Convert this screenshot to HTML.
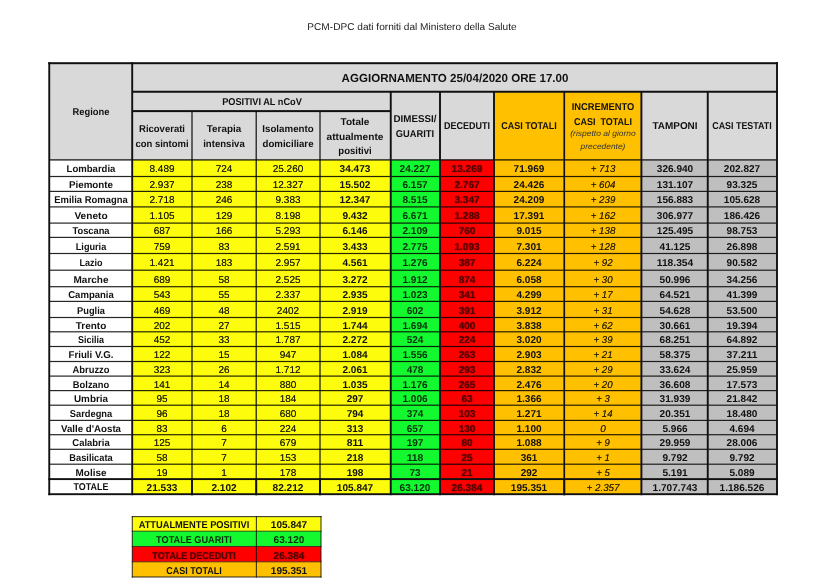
<!DOCTYPE html>
<html lang="it"><head><meta charset="utf-8"><title>PCM-DPC</title>
<style>
html,body{margin:0;padding:0;background:#fff}
body{width:819px;height:587px;position:relative;overflow:hidden;font-family:"Liberation Sans",sans-serif}
#g{position:absolute;left:0;top:0}
#w{position:absolute;left:0;top:0;width:819px;height:587px;will-change:transform}
.r{position:absolute}
.t{position:absolute;text-rendering:geometricPrecision;transform-origin:50% 0;white-space:pre;line-height:1;font-family:"Liberation Sans",sans-serif}
.b{font-weight:bold}
.i{font-style:italic}
</style></head><body>
<svg id="g" width="819" height="587" viewBox="0 0 819 587">
<rect x="49.25" y="63.20" width="727.75" height="96.70" fill="#d9d9d9"/>
<rect x="494.00" y="91.75" width="147.40" height="68.15" fill="#ffc000"/>
<rect x="49.25" y="159.90" width="82.95" height="334.30" fill="#fff"/>
<rect x="132.20" y="159.90" width="258.55" height="334.30" fill="#fcfc0c"/>
<rect x="390.75" y="159.90" width="49.25" height="334.30" fill="#14f82f"/>
<rect x="440.00" y="159.90" width="54.00" height="334.30" fill="#ff0000"/>
<rect x="494.00" y="159.90" width="147.40" height="334.30" fill="#ffc000"/>
<rect x="641.40" y="159.90" width="135.60" height="334.30" fill="#bfbfbf"/>
<rect x="49.25" y="175.90" width="727.75" height="1.20" fill="#000" fill-opacity="0.85"/>
<rect x="49.25" y="190.80" width="727.75" height="1.20" fill="#000" fill-opacity="0.85"/>
<rect x="49.25" y="206.30" width="727.75" height="1.20" fill="#000" fill-opacity="0.85"/>
<rect x="49.25" y="222.50" width="727.75" height="1.20" fill="#000" fill-opacity="0.85"/>
<rect x="49.25" y="236.80" width="727.75" height="1.20" fill="#000" fill-opacity="0.85"/>
<rect x="49.25" y="252.90" width="727.75" height="1.20" fill="#000" fill-opacity="0.85"/>
<rect x="49.25" y="269.60" width="727.75" height="1.20" fill="#000" fill-opacity="0.85"/>
<rect x="49.25" y="286.10" width="727.75" height="1.20" fill="#000" fill-opacity="0.85"/>
<rect x="49.25" y="300.80" width="727.75" height="1.20" fill="#000" fill-opacity="0.85"/>
<rect x="49.25" y="316.90" width="727.75" height="1.20" fill="#000" fill-opacity="0.85"/>
<rect x="49.25" y="331.20" width="727.75" height="1.20" fill="#000" fill-opacity="0.85"/>
<rect x="49.25" y="345.90" width="727.75" height="1.20" fill="#000" fill-opacity="0.85"/>
<rect x="49.25" y="360.90" width="727.75" height="1.20" fill="#000" fill-opacity="0.85"/>
<rect x="49.25" y="375.50" width="727.75" height="1.20" fill="#000" fill-opacity="0.85"/>
<rect x="49.25" y="390.00" width="727.75" height="1.20" fill="#000" fill-opacity="0.85"/>
<rect x="49.25" y="404.60" width="727.75" height="1.20" fill="#000" fill-opacity="0.85"/>
<rect x="49.25" y="419.80" width="727.75" height="1.20" fill="#000" fill-opacity="0.85"/>
<rect x="49.25" y="434.10" width="727.75" height="1.20" fill="#000" fill-opacity="0.85"/>
<rect x="49.25" y="448.70" width="727.75" height="1.20" fill="#000" fill-opacity="0.85"/>
<rect x="49.25" y="463.60" width="727.75" height="1.20" fill="#000" fill-opacity="0.85"/>
<rect x="49.25" y="159.25" width="727.75" height="1.30" fill="#000" fill-opacity="0.9"/>
<rect x="48.30" y="62.20" width="729.65" height="2.00" fill="#111"/>
<rect x="132.20" y="90.75" width="645.75" height="2.00" fill="#111"/>
<rect x="132.20" y="110.10" width="258.55" height="2.00" fill="#111"/>
<rect x="48.30" y="478.15" width="729.65" height="1.90" fill="#111"/>
<rect x="48.30" y="493.25" width="729.65" height="1.90" fill="#111"/>
<rect x="48.30" y="62.20" width="1.90" height="433.00" fill="#111"/>
<rect x="131.25" y="62.20" width="1.90" height="433.00" fill="#111"/>
<rect x="191.25" y="111.10" width="1.50" height="384.10" fill="#000" fill-opacity="0.75"/>
<rect x="191.05" y="479.10" width="1.90" height="16.10" fill="#111"/>
<rect x="255.50" y="111.10" width="1.50" height="384.10" fill="#000" fill-opacity="0.75"/>
<rect x="255.30" y="479.10" width="1.90" height="16.10" fill="#111"/>
<rect x="319.25" y="111.10" width="1.50" height="384.10" fill="#000" fill-opacity="0.75"/>
<rect x="319.05" y="479.10" width="1.90" height="16.10" fill="#111"/>
<rect x="389.80" y="91.75" width="1.90" height="403.45" fill="#111"/>
<rect x="439.05" y="91.75" width="1.90" height="403.45" fill="#111"/>
<rect x="493.05" y="91.75" width="1.90" height="403.45" fill="#111"/>
<rect x="563.40" y="91.75" width="1.70" height="403.45" fill="#111"/>
<rect x="563.30" y="479.10" width="1.90" height="16.10" fill="#111"/>
<rect x="640.45" y="91.75" width="1.90" height="403.45" fill="#111"/>
<rect x="706.80" y="91.75" width="1.90" height="403.45" fill="#111"/>
<rect x="776.05" y="62.20" width="1.90" height="433.00" fill="#111"/>
<rect x="132.30" y="516.60" width="188.70" height="14.60" fill="#fcfc0c"/>
<rect x="132.30" y="531.20" width="188.70" height="15.30" fill="#14f82f"/>
<rect x="132.30" y="546.50" width="188.70" height="15.30" fill="#ff0000"/>
<rect x="132.30" y="561.80" width="188.70" height="15.20" fill="#ffc000"/>
<rect x="131.75" y="516.05" width="189.80" height="1.10" fill="#000" fill-opacity="0.75"/>
<rect x="131.75" y="530.65" width="189.80" height="1.10" fill="#000" fill-opacity="0.6"/>
<rect x="131.75" y="545.95" width="189.80" height="1.10" fill="#000" fill-opacity="0.6"/>
<rect x="131.75" y="561.25" width="189.80" height="1.10" fill="#000" fill-opacity="0.6"/>
<rect x="131.75" y="576.45" width="189.80" height="1.10" fill="#000" fill-opacity="0.75"/>
<rect x="131.75" y="516.05" width="1.10" height="61.50" fill="#000" fill-opacity="0.75"/>
<rect x="255.85" y="516.05" width="1.10" height="61.50" fill="#000" fill-opacity="0.75"/>
<rect x="320.45" y="516.05" width="1.10" height="61.50" fill="#000" fill-opacity="0.75"/>
</svg>
<div id="w">
<span class="t" style="left:411.6px;top:22.16px;font-size:19.80px;color:#222;transform:translateX(-50%) scale(0.5104,0.5)">PCM-DPC dati forniti dal Ministero della Salute</span>
<span class="t b" style="left:454.5px;top:72.28px;font-size:23.40px;color:#111;transform:translateX(-50%) scale(0.4949,0.5)">AGGIORNAMENTO 25/04/2020 ORE 17.00</span>
<span class="t b" style="left:90.7px;top:106.66px;font-size:19.80px;color:#111;transform:translateX(-50%) scale(0.4737,0.5)">Regione</span>
<span class="t b" style="left:261.5px;top:96.66px;font-size:19.80px;color:#111;transform:translateX(-50%) scale(0.4644,0.5)">POSITIVI AL nCoV</span>
<span class="t b" style="left:162.1px;top:124.36px;font-size:19.80px;color:#111;transform:translateX(-50%) scale(0.4805,0.5)">Ricoverati</span>
<span class="t b" style="left:162.1px;top:139.36px;font-size:19.80px;color:#111;transform:translateX(-50%) scale(0.4796,0.5)">con sintomi</span>
<span class="t b" style="left:224.1px;top:124.36px;font-size:19.80px;color:#111;transform:translateX(-50%) scale(0.4983,0.5)">Terapia</span>
<span class="t b" style="left:224.1px;top:139.36px;font-size:19.80px;color:#111;transform:translateX(-50%) scale(0.4848,0.5)">intensiva</span>
<span class="t b" style="left:288.1px;top:124.36px;font-size:19.80px;color:#111;transform:translateX(-50%) scale(0.4926,0.5)">Isolamento</span>
<span class="t b" style="left:288.1px;top:139.36px;font-size:19.80px;color:#111;transform:translateX(-50%) scale(0.4885,0.5)">domiciliare</span>
<span class="t b" style="left:355.4px;top:117.36px;font-size:19.80px;color:#111;transform:translateX(-50%) scale(0.5074,0.5)">Totale</span>
<span class="t b" style="left:355.4px;top:132.16px;font-size:19.80px;color:#111;transform:translateX(-50%) scale(0.5115,0.5)">attualmente</span>
<span class="t b" style="left:355.4px;top:146.36px;font-size:19.80px;color:#111;transform:translateX(-50%) scale(0.4812,0.5)">positivi</span>
<span class="t b" style="left:415.4px;top:114.26px;font-size:19.80px;color:#111;transform:translateX(-50%) scale(0.4937,0.5)">DIMESSI/</span>
<span class="t b" style="left:415.4px;top:129.06px;font-size:19.80px;color:#111;transform:translateX(-50%) scale(0.4708,0.5)">GUARITI</span>
<span class="t b" style="left:467.0px;top:121.06px;font-size:19.80px;color:#111;transform:translateX(-50%) scale(0.4540,0.5)">DECEDUTI</span>
<span class="t b" style="left:529.1px;top:120.66px;font-size:19.80px;color:#111;transform:translateX(-50%) scale(0.4546,0.5)">CASI TOTALI</span>
<span class="t b" style="left:602.8px;top:101.66px;font-size:19.80px;color:#111;transform:translateX(-50%) scale(0.4724,0.5)">INCREMENTO</span>
<span class="t b" style="left:602.8px;top:116.66px;font-size:19.80px;color:#111;transform:translateX(-50%) scale(0.4545,0.5)">CASI  TOTALI</span>
<span class="t i" style="left:602.8px;top:129.34px;font-size:16.20px;color:#333;transform:translateX(-50%) scale(0.5236,0.5)">(rispetto al giorno</span>
<span class="t i" style="left:602.8px;top:141.74px;font-size:16.20px;color:#333;transform:translateX(-50%) scale(0.5180,0.5)">precedente)</span>
<span class="t b" style="left:674.6px;top:120.66px;font-size:19.80px;color:#111;transform:translateX(-50%) scale(0.5033,0.5)">TAMPONI</span>
<span class="t b" style="left:742.4px;top:120.66px;font-size:19.80px;color:#111;transform:translateX(-50%) scale(0.4503,0.5)">CASI TESTATI</span>
<span class="t b" style="left:90.7px;top:163.92px;font-size:19.80px;color:#111;transform:translateX(-50%) scale(0.4822,0.5)">Lombardia</span>
<span class="t" style="left:162.1px;top:163.92px;font-size:19.80px;color:#1c1c08;transform:translateX(-50%) scale(0.5061,0.5);text-shadow:0 0 1.2px rgba(20,20,0,.7)">8.489</span>
<span class="t" style="left:224.1px;top:163.92px;font-size:19.80px;color:#1c1c08;transform:translateX(-50%) scale(0.5063,0.5);text-shadow:0 0 1.2px rgba(20,20,0,.7)">724</span>
<span class="t" style="left:288.1px;top:163.92px;font-size:19.80px;color:#1c1c08;transform:translateX(-50%) scale(0.5062,0.5);text-shadow:0 0 1.2px rgba(20,20,0,.7)">25.260</span>
<span class="t b" style="left:355.4px;top:163.92px;font-size:19.80px;color:#111;transform:translateX(-50%) scale(0.5088,0.5)">34.473</span>
<span class="t b" style="left:415.4px;top:163.92px;font-size:19.80px;color:#06300a;transform:translateX(-50%) scale(0.5088,0.5)">24.227</span>
<span class="t b" style="left:467.0px;top:163.92px;font-size:19.80px;color:#560000;transform:translateX(-50%) scale(0.5088,0.5);text-shadow:0 0 2.5px rgba(80,0,0,.85)">13.269</span>
<span class="t b" style="left:529.1px;top:163.92px;font-size:19.80px;color:#111;transform:translateX(-50%) scale(0.5088,0.5)">71.969</span>
<span class="t i" style="left:602.8px;top:163.92px;font-size:19.80px;color:#2e2200;transform:translateX(-50%) scale(0.4928,0.5);text-shadow:0 0 1.2px rgba(20,20,0,.7)">+ 713</span>
<span class="t b" style="left:674.6px;top:163.92px;font-size:19.80px;color:#111;transform:translateX(-50%) scale(0.5084,0.5)">326.940</span>
<span class="t b" style="left:742.4px;top:163.92px;font-size:19.80px;color:#111;transform:translateX(-50%) scale(0.5084,0.5)">202.827</span>
<span class="t b" style="left:90.7px;top:179.92px;font-size:19.80px;color:#111;transform:translateX(-50%) scale(0.4959,0.5)">Piemonte</span>
<span class="t" style="left:162.1px;top:179.92px;font-size:19.80px;color:#1c1c08;transform:translateX(-50%) scale(0.5061,0.5);text-shadow:0 0 1.2px rgba(20,20,0,.7)">2.937</span>
<span class="t" style="left:224.1px;top:179.92px;font-size:19.80px;color:#1c1c08;transform:translateX(-50%) scale(0.5063,0.5);text-shadow:0 0 1.2px rgba(20,20,0,.7)">238</span>
<span class="t" style="left:288.1px;top:179.92px;font-size:19.80px;color:#1c1c08;transform:translateX(-50%) scale(0.5062,0.5);text-shadow:0 0 1.2px rgba(20,20,0,.7)">12.327</span>
<span class="t b" style="left:355.4px;top:179.92px;font-size:19.80px;color:#111;transform:translateX(-50%) scale(0.5088,0.5)">15.502</span>
<span class="t b" style="left:415.4px;top:179.92px;font-size:19.80px;color:#06300a;transform:translateX(-50%) scale(0.5094,0.5)">6.157</span>
<span class="t b" style="left:467.0px;top:179.92px;font-size:19.80px;color:#560000;transform:translateX(-50%) scale(0.5094,0.5);text-shadow:0 0 2.5px rgba(80,0,0,.85)">2.767</span>
<span class="t b" style="left:529.1px;top:179.92px;font-size:19.80px;color:#111;transform:translateX(-50%) scale(0.5088,0.5)">24.426</span>
<span class="t i" style="left:602.8px;top:179.92px;font-size:19.80px;color:#2e2200;transform:translateX(-50%) scale(0.4928,0.5);text-shadow:0 0 1.2px rgba(20,20,0,.7)">+ 604</span>
<span class="t b" style="left:674.6px;top:179.92px;font-size:19.80px;color:#111;transform:translateX(-50%) scale(0.5084,0.5)">131.107</span>
<span class="t b" style="left:742.4px;top:179.92px;font-size:19.80px;color:#111;transform:translateX(-50%) scale(0.5088,0.5)">93.325</span>
<span class="t b" style="left:90.7px;top:194.92px;font-size:19.80px;color:#111;transform:translateX(-50%) scale(0.4765,0.5)">Emilia Romagna</span>
<span class="t" style="left:162.1px;top:194.92px;font-size:19.80px;color:#1c1c08;transform:translateX(-50%) scale(0.5061,0.5);text-shadow:0 0 1.2px rgba(20,20,0,.7)">2.718</span>
<span class="t" style="left:224.1px;top:194.92px;font-size:19.80px;color:#1c1c08;transform:translateX(-50%) scale(0.5063,0.5);text-shadow:0 0 1.2px rgba(20,20,0,.7)">246</span>
<span class="t" style="left:288.1px;top:194.92px;font-size:19.80px;color:#1c1c08;transform:translateX(-50%) scale(0.5061,0.5);text-shadow:0 0 1.2px rgba(20,20,0,.7)">9.383</span>
<span class="t b" style="left:355.4px;top:194.92px;font-size:19.80px;color:#111;transform:translateX(-50%) scale(0.5088,0.5)">12.347</span>
<span class="t b" style="left:415.4px;top:194.92px;font-size:19.80px;color:#06300a;transform:translateX(-50%) scale(0.5094,0.5)">8.515</span>
<span class="t b" style="left:467.0px;top:194.92px;font-size:19.80px;color:#560000;transform:translateX(-50%) scale(0.5094,0.5);text-shadow:0 0 2.5px rgba(80,0,0,.85)">3.347</span>
<span class="t b" style="left:529.1px;top:194.92px;font-size:19.80px;color:#111;transform:translateX(-50%) scale(0.5088,0.5)">24.209</span>
<span class="t i" style="left:602.8px;top:194.92px;font-size:19.80px;color:#2e2200;transform:translateX(-50%) scale(0.4928,0.5);text-shadow:0 0 1.2px rgba(20,20,0,.7)">+ 239</span>
<span class="t b" style="left:674.6px;top:194.92px;font-size:19.80px;color:#111;transform:translateX(-50%) scale(0.5084,0.5)">156.883</span>
<span class="t b" style="left:742.4px;top:194.92px;font-size:19.80px;color:#111;transform:translateX(-50%) scale(0.5084,0.5)">105.628</span>
<span class="t b" style="left:90.7px;top:210.92px;font-size:19.80px;color:#111;transform:translateX(-50%) scale(0.5115,0.5)">Veneto</span>
<span class="t" style="left:162.1px;top:210.92px;font-size:19.80px;color:#1c1c08;transform:translateX(-50%) scale(0.5061,0.5);text-shadow:0 0 1.2px rgba(20,20,0,.7)">1.105</span>
<span class="t" style="left:224.1px;top:210.92px;font-size:19.80px;color:#1c1c08;transform:translateX(-50%) scale(0.5063,0.5);text-shadow:0 0 1.2px rgba(20,20,0,.7)">129</span>
<span class="t" style="left:288.1px;top:210.92px;font-size:19.80px;color:#1c1c08;transform:translateX(-50%) scale(0.5061,0.5);text-shadow:0 0 1.2px rgba(20,20,0,.7)">8.198</span>
<span class="t b" style="left:355.4px;top:210.92px;font-size:19.80px;color:#111;transform:translateX(-50%) scale(0.5094,0.5)">9.432</span>
<span class="t b" style="left:415.4px;top:210.92px;font-size:19.80px;color:#06300a;transform:translateX(-50%) scale(0.5094,0.5)">6.671</span>
<span class="t b" style="left:467.0px;top:210.92px;font-size:19.80px;color:#560000;transform:translateX(-50%) scale(0.5094,0.5);text-shadow:0 0 2.5px rgba(80,0,0,.85)">1.288</span>
<span class="t b" style="left:529.1px;top:210.92px;font-size:19.80px;color:#111;transform:translateX(-50%) scale(0.5088,0.5)">17.391</span>
<span class="t i" style="left:602.8px;top:210.92px;font-size:19.80px;color:#2e2200;transform:translateX(-50%) scale(0.4928,0.5);text-shadow:0 0 1.2px rgba(20,20,0,.7)">+ 162</span>
<span class="t b" style="left:674.6px;top:210.92px;font-size:19.80px;color:#111;transform:translateX(-50%) scale(0.5084,0.5)">306.977</span>
<span class="t b" style="left:742.4px;top:210.92px;font-size:19.80px;color:#111;transform:translateX(-50%) scale(0.5084,0.5)">186.426</span>
<span class="t b" style="left:90.7px;top:225.92px;font-size:19.80px;color:#111;transform:translateX(-50%) scale(0.4708,0.5)">Toscana</span>
<span class="t" style="left:162.1px;top:225.92px;font-size:19.80px;color:#1c1c08;transform:translateX(-50%) scale(0.5063,0.5);text-shadow:0 0 1.2px rgba(20,20,0,.7)">687</span>
<span class="t" style="left:224.1px;top:225.92px;font-size:19.80px;color:#1c1c08;transform:translateX(-50%) scale(0.5063,0.5);text-shadow:0 0 1.2px rgba(20,20,0,.7)">166</span>
<span class="t" style="left:288.1px;top:225.92px;font-size:19.80px;color:#1c1c08;transform:translateX(-50%) scale(0.5061,0.5);text-shadow:0 0 1.2px rgba(20,20,0,.7)">5.293</span>
<span class="t b" style="left:355.4px;top:225.92px;font-size:19.80px;color:#111;transform:translateX(-50%) scale(0.5094,0.5)">6.146</span>
<span class="t b" style="left:415.4px;top:225.92px;font-size:19.80px;color:#06300a;transform:translateX(-50%) scale(0.5094,0.5)">2.109</span>
<span class="t b" style="left:467.0px;top:225.92px;font-size:19.80px;color:#560000;transform:translateX(-50%) scale(0.5063,0.5);text-shadow:0 0 2.5px rgba(80,0,0,.85)">760</span>
<span class="t b" style="left:529.1px;top:225.92px;font-size:19.80px;color:#111;transform:translateX(-50%) scale(0.5094,0.5)">9.015</span>
<span class="t i" style="left:602.8px;top:225.92px;font-size:19.80px;color:#2e2200;transform:translateX(-50%) scale(0.4928,0.5);text-shadow:0 0 1.2px rgba(20,20,0,.7)">+ 138</span>
<span class="t b" style="left:674.6px;top:225.92px;font-size:19.80px;color:#111;transform:translateX(-50%) scale(0.5084,0.5)">125.495</span>
<span class="t b" style="left:742.4px;top:225.92px;font-size:19.80px;color:#111;transform:translateX(-50%) scale(0.5088,0.5)">98.753</span>
<span class="t b" style="left:90.7px;top:241.92px;font-size:19.80px;color:#111;transform:translateX(-50%) scale(0.4625,0.5)">Liguria</span>
<span class="t" style="left:162.1px;top:241.92px;font-size:19.80px;color:#1c1c08;transform:translateX(-50%) scale(0.5063,0.5);text-shadow:0 0 1.2px rgba(20,20,0,.7)">759</span>
<span class="t" style="left:224.1px;top:241.92px;font-size:19.80px;color:#1c1c08;transform:translateX(-50%) scale(0.5063,0.5);text-shadow:0 0 1.2px rgba(20,20,0,.7)">83</span>
<span class="t" style="left:288.1px;top:241.92px;font-size:19.80px;color:#1c1c08;transform:translateX(-50%) scale(0.5061,0.5);text-shadow:0 0 1.2px rgba(20,20,0,.7)">2.591</span>
<span class="t b" style="left:355.4px;top:241.92px;font-size:19.80px;color:#111;transform:translateX(-50%) scale(0.5094,0.5)">3.433</span>
<span class="t b" style="left:415.4px;top:241.92px;font-size:19.80px;color:#06300a;transform:translateX(-50%) scale(0.5094,0.5)">2.775</span>
<span class="t b" style="left:467.0px;top:241.92px;font-size:19.80px;color:#560000;transform:translateX(-50%) scale(0.5094,0.5);text-shadow:0 0 2.5px rgba(80,0,0,.85)">1.093</span>
<span class="t b" style="left:529.1px;top:241.92px;font-size:19.80px;color:#111;transform:translateX(-50%) scale(0.5094,0.5)">7.301</span>
<span class="t i" style="left:602.8px;top:241.92px;font-size:19.80px;color:#2e2200;transform:translateX(-50%) scale(0.4928,0.5);text-shadow:0 0 1.2px rgba(20,20,0,.7)">+ 128</span>
<span class="t b" style="left:674.6px;top:241.92px;font-size:19.80px;color:#111;transform:translateX(-50%) scale(0.5088,0.5)">41.125</span>
<span class="t b" style="left:742.4px;top:241.92px;font-size:19.80px;color:#111;transform:translateX(-50%) scale(0.5088,0.5)">26.898</span>
<span class="t b" style="left:90.7px;top:257.92px;font-size:19.80px;color:#111;transform:translateX(-50%) scale(0.4561,0.5)">Lazio</span>
<span class="t" style="left:162.1px;top:257.92px;font-size:19.80px;color:#1c1c08;transform:translateX(-50%) scale(0.5061,0.5);text-shadow:0 0 1.2px rgba(20,20,0,.7)">1.421</span>
<span class="t" style="left:224.1px;top:257.92px;font-size:19.80px;color:#1c1c08;transform:translateX(-50%) scale(0.5063,0.5);text-shadow:0 0 1.2px rgba(20,20,0,.7)">183</span>
<span class="t" style="left:288.1px;top:257.92px;font-size:19.80px;color:#1c1c08;transform:translateX(-50%) scale(0.5061,0.5);text-shadow:0 0 1.2px rgba(20,20,0,.7)">2.957</span>
<span class="t b" style="left:355.4px;top:257.92px;font-size:19.80px;color:#111;transform:translateX(-50%) scale(0.5094,0.5)">4.561</span>
<span class="t b" style="left:415.4px;top:257.92px;font-size:19.80px;color:#06300a;transform:translateX(-50%) scale(0.5094,0.5)">1.276</span>
<span class="t b" style="left:467.0px;top:257.92px;font-size:19.80px;color:#560000;transform:translateX(-50%) scale(0.5063,0.5);text-shadow:0 0 2.5px rgba(80,0,0,.85)">387</span>
<span class="t b" style="left:529.1px;top:257.92px;font-size:19.80px;color:#111;transform:translateX(-50%) scale(0.5094,0.5)">6.224</span>
<span class="t i" style="left:602.8px;top:257.92px;font-size:19.80px;color:#2e2200;transform:translateX(-50%) scale(0.4890,0.5);text-shadow:0 0 1.2px rgba(20,20,0,.7)">+ 92</span>
<span class="t b" style="left:674.6px;top:257.92px;font-size:19.80px;color:#111;transform:translateX(-50%) scale(0.5163,0.5)">118.354</span>
<span class="t b" style="left:742.4px;top:257.92px;font-size:19.80px;color:#111;transform:translateX(-50%) scale(0.5088,0.5)">90.582</span>
<span class="t b" style="left:90.7px;top:274.92px;font-size:19.80px;color:#111;transform:translateX(-50%) scale(0.5049,0.5)">Marche</span>
<span class="t" style="left:162.1px;top:274.92px;font-size:19.80px;color:#1c1c08;transform:translateX(-50%) scale(0.5063,0.5);text-shadow:0 0 1.2px rgba(20,20,0,.7)">689</span>
<span class="t" style="left:224.1px;top:274.92px;font-size:19.80px;color:#1c1c08;transform:translateX(-50%) scale(0.5063,0.5);text-shadow:0 0 1.2px rgba(20,20,0,.7)">58</span>
<span class="t" style="left:288.1px;top:274.92px;font-size:19.80px;color:#1c1c08;transform:translateX(-50%) scale(0.5061,0.5);text-shadow:0 0 1.2px rgba(20,20,0,.7)">2.525</span>
<span class="t b" style="left:355.4px;top:274.92px;font-size:19.80px;color:#111;transform:translateX(-50%) scale(0.5094,0.5)">3.272</span>
<span class="t b" style="left:415.4px;top:274.92px;font-size:19.80px;color:#06300a;transform:translateX(-50%) scale(0.5094,0.5)">1.912</span>
<span class="t b" style="left:467.0px;top:274.92px;font-size:19.80px;color:#560000;transform:translateX(-50%) scale(0.5063,0.5);text-shadow:0 0 2.5px rgba(80,0,0,.85)">874</span>
<span class="t b" style="left:529.1px;top:274.92px;font-size:19.80px;color:#111;transform:translateX(-50%) scale(0.5094,0.5)">6.058</span>
<span class="t i" style="left:602.8px;top:274.92px;font-size:19.80px;color:#2e2200;transform:translateX(-50%) scale(0.4890,0.5);text-shadow:0 0 1.2px rgba(20,20,0,.7)">+ 30</span>
<span class="t b" style="left:674.6px;top:274.92px;font-size:19.80px;color:#111;transform:translateX(-50%) scale(0.5088,0.5)">50.996</span>
<span class="t b" style="left:742.4px;top:274.92px;font-size:19.80px;color:#111;transform:translateX(-50%) scale(0.5088,0.5)">34.256</span>
<span class="t b" style="left:90.7px;top:289.92px;font-size:19.80px;color:#111;transform:translateX(-50%) scale(0.4818,0.5)">Campania</span>
<span class="t" style="left:162.1px;top:289.92px;font-size:19.80px;color:#1c1c08;transform:translateX(-50%) scale(0.5063,0.5);text-shadow:0 0 1.2px rgba(20,20,0,.7)">543</span>
<span class="t" style="left:224.1px;top:289.92px;font-size:19.80px;color:#1c1c08;transform:translateX(-50%) scale(0.5063,0.5);text-shadow:0 0 1.2px rgba(20,20,0,.7)">55</span>
<span class="t" style="left:288.1px;top:289.92px;font-size:19.80px;color:#1c1c08;transform:translateX(-50%) scale(0.5061,0.5);text-shadow:0 0 1.2px rgba(20,20,0,.7)">2.337</span>
<span class="t b" style="left:355.4px;top:289.92px;font-size:19.80px;color:#111;transform:translateX(-50%) scale(0.5094,0.5)">2.935</span>
<span class="t b" style="left:415.4px;top:289.92px;font-size:19.80px;color:#06300a;transform:translateX(-50%) scale(0.5094,0.5)">1.023</span>
<span class="t b" style="left:467.0px;top:289.92px;font-size:19.80px;color:#560000;transform:translateX(-50%) scale(0.5063,0.5);text-shadow:0 0 2.5px rgba(80,0,0,.85)">341</span>
<span class="t b" style="left:529.1px;top:289.92px;font-size:19.80px;color:#111;transform:translateX(-50%) scale(0.5094,0.5)">4.299</span>
<span class="t i" style="left:602.8px;top:289.92px;font-size:19.80px;color:#2e2200;transform:translateX(-50%) scale(0.4890,0.5);text-shadow:0 0 1.2px rgba(20,20,0,.7)">+ 17</span>
<span class="t b" style="left:674.6px;top:289.92px;font-size:19.80px;color:#111;transform:translateX(-50%) scale(0.5088,0.5)">64.521</span>
<span class="t b" style="left:742.4px;top:289.92px;font-size:19.80px;color:#111;transform:translateX(-50%) scale(0.5088,0.5)">41.399</span>
<span class="t b" style="left:90.7px;top:305.92px;font-size:19.80px;color:#111;transform:translateX(-50%) scale(0.4684,0.5)">Puglia</span>
<span class="t" style="left:162.1px;top:305.92px;font-size:19.80px;color:#1c1c08;transform:translateX(-50%) scale(0.5063,0.5);text-shadow:0 0 1.2px rgba(20,20,0,.7)">469</span>
<span class="t" style="left:224.1px;top:305.92px;font-size:19.80px;color:#1c1c08;transform:translateX(-50%) scale(0.5063,0.5);text-shadow:0 0 1.2px rgba(20,20,0,.7)">48</span>
<span class="t" style="left:288.1px;top:305.92px;font-size:19.80px;color:#1c1c08;transform:translateX(-50%) scale(0.5063,0.5);text-shadow:0 0 1.2px rgba(20,20,0,.7)">2402</span>
<span class="t b" style="left:355.4px;top:305.92px;font-size:19.80px;color:#111;transform:translateX(-50%) scale(0.5094,0.5)">2.919</span>
<span class="t b" style="left:415.4px;top:305.92px;font-size:19.80px;color:#06300a;transform:translateX(-50%) scale(0.5063,0.5)">602</span>
<span class="t b" style="left:467.0px;top:305.92px;font-size:19.80px;color:#560000;transform:translateX(-50%) scale(0.5063,0.5);text-shadow:0 0 2.5px rgba(80,0,0,.85)">391</span>
<span class="t b" style="left:529.1px;top:305.92px;font-size:19.80px;color:#111;transform:translateX(-50%) scale(0.5094,0.5)">3.912</span>
<span class="t i" style="left:602.8px;top:305.92px;font-size:19.80px;color:#2e2200;transform:translateX(-50%) scale(0.4890,0.5);text-shadow:0 0 1.2px rgba(20,20,0,.7)">+ 31</span>
<span class="t b" style="left:674.6px;top:305.92px;font-size:19.80px;color:#111;transform:translateX(-50%) scale(0.5088,0.5)">54.628</span>
<span class="t b" style="left:742.4px;top:305.92px;font-size:19.80px;color:#111;transform:translateX(-50%) scale(0.5088,0.5)">53.500</span>
<span class="t b" style="left:90.7px;top:320.92px;font-size:19.80px;color:#111;transform:translateX(-50%) scale(0.5042,0.5)">Trento</span>
<span class="t" style="left:162.1px;top:320.92px;font-size:19.80px;color:#1c1c08;transform:translateX(-50%) scale(0.5063,0.5);text-shadow:0 0 1.2px rgba(20,20,0,.7)">202</span>
<span class="t" style="left:224.1px;top:320.92px;font-size:19.80px;color:#1c1c08;transform:translateX(-50%) scale(0.5063,0.5);text-shadow:0 0 1.2px rgba(20,20,0,.7)">27</span>
<span class="t" style="left:288.1px;top:320.92px;font-size:19.80px;color:#1c1c08;transform:translateX(-50%) scale(0.5061,0.5);text-shadow:0 0 1.2px rgba(20,20,0,.7)">1.515</span>
<span class="t b" style="left:355.4px;top:320.92px;font-size:19.80px;color:#111;transform:translateX(-50%) scale(0.5094,0.5)">1.744</span>
<span class="t b" style="left:415.4px;top:320.92px;font-size:19.80px;color:#06300a;transform:translateX(-50%) scale(0.5094,0.5)">1.694</span>
<span class="t b" style="left:467.0px;top:320.92px;font-size:19.80px;color:#560000;transform:translateX(-50%) scale(0.5063,0.5);text-shadow:0 0 2.5px rgba(80,0,0,.85)">400</span>
<span class="t b" style="left:529.1px;top:320.92px;font-size:19.80px;color:#111;transform:translateX(-50%) scale(0.5094,0.5)">3.838</span>
<span class="t i" style="left:602.8px;top:320.92px;font-size:19.80px;color:#2e2200;transform:translateX(-50%) scale(0.4890,0.5);text-shadow:0 0 1.2px rgba(20,20,0,.7)">+ 62</span>
<span class="t b" style="left:674.6px;top:320.92px;font-size:19.80px;color:#111;transform:translateX(-50%) scale(0.5088,0.5)">30.661</span>
<span class="t b" style="left:742.4px;top:320.92px;font-size:19.80px;color:#111;transform:translateX(-50%) scale(0.5088,0.5)">19.394</span>
<span class="t b" style="left:90.7px;top:334.92px;font-size:19.80px;color:#111;transform:translateX(-50%) scale(0.4554,0.5)">Sicilia</span>
<span class="t" style="left:162.1px;top:334.92px;font-size:19.80px;color:#1c1c08;transform:translateX(-50%) scale(0.5063,0.5);text-shadow:0 0 1.2px rgba(20,20,0,.7)">452</span>
<span class="t" style="left:224.1px;top:334.92px;font-size:19.80px;color:#1c1c08;transform:translateX(-50%) scale(0.5063,0.5);text-shadow:0 0 1.2px rgba(20,20,0,.7)">33</span>
<span class="t" style="left:288.1px;top:334.92px;font-size:19.80px;color:#1c1c08;transform:translateX(-50%) scale(0.5061,0.5);text-shadow:0 0 1.2px rgba(20,20,0,.7)">1.787</span>
<span class="t b" style="left:355.4px;top:334.92px;font-size:19.80px;color:#111;transform:translateX(-50%) scale(0.5094,0.5)">2.272</span>
<span class="t b" style="left:415.4px;top:334.92px;font-size:19.80px;color:#06300a;transform:translateX(-50%) scale(0.5063,0.5)">524</span>
<span class="t b" style="left:467.0px;top:334.92px;font-size:19.80px;color:#560000;transform:translateX(-50%) scale(0.5063,0.5);text-shadow:0 0 2.5px rgba(80,0,0,.85)">224</span>
<span class="t b" style="left:529.1px;top:334.92px;font-size:19.80px;color:#111;transform:translateX(-50%) scale(0.5094,0.5)">3.020</span>
<span class="t i" style="left:602.8px;top:334.92px;font-size:19.80px;color:#2e2200;transform:translateX(-50%) scale(0.4890,0.5);text-shadow:0 0 1.2px rgba(20,20,0,.7)">+ 39</span>
<span class="t b" style="left:674.6px;top:334.92px;font-size:19.80px;color:#111;transform:translateX(-50%) scale(0.5088,0.5)">68.251</span>
<span class="t b" style="left:742.4px;top:334.92px;font-size:19.80px;color:#111;transform:translateX(-50%) scale(0.5088,0.5)">64.892</span>
<span class="t b" style="left:90.7px;top:349.92px;font-size:19.80px;color:#111;transform:translateX(-50%) scale(0.4894,0.5)">Friuli V.G.</span>
<span class="t" style="left:162.1px;top:349.92px;font-size:19.80px;color:#1c1c08;transform:translateX(-50%) scale(0.5063,0.5);text-shadow:0 0 1.2px rgba(20,20,0,.7)">122</span>
<span class="t" style="left:224.1px;top:349.92px;font-size:19.80px;color:#1c1c08;transform:translateX(-50%) scale(0.5063,0.5);text-shadow:0 0 1.2px rgba(20,20,0,.7)">15</span>
<span class="t" style="left:288.1px;top:349.92px;font-size:19.80px;color:#1c1c08;transform:translateX(-50%) scale(0.5063,0.5);text-shadow:0 0 1.2px rgba(20,20,0,.7)">947</span>
<span class="t b" style="left:355.4px;top:349.92px;font-size:19.80px;color:#111;transform:translateX(-50%) scale(0.5094,0.5)">1.084</span>
<span class="t b" style="left:415.4px;top:349.92px;font-size:19.80px;color:#06300a;transform:translateX(-50%) scale(0.5094,0.5)">1.556</span>
<span class="t b" style="left:467.0px;top:349.92px;font-size:19.80px;color:#560000;transform:translateX(-50%) scale(0.5063,0.5);text-shadow:0 0 2.5px rgba(80,0,0,.85)">263</span>
<span class="t b" style="left:529.1px;top:349.92px;font-size:19.80px;color:#111;transform:translateX(-50%) scale(0.5094,0.5)">2.903</span>
<span class="t i" style="left:602.8px;top:349.92px;font-size:19.80px;color:#2e2200;transform:translateX(-50%) scale(0.4890,0.5);text-shadow:0 0 1.2px rgba(20,20,0,.7)">+ 21</span>
<span class="t b" style="left:674.6px;top:349.92px;font-size:19.80px;color:#111;transform:translateX(-50%) scale(0.5088,0.5)">58.375</span>
<span class="t b" style="left:742.4px;top:349.92px;font-size:19.80px;color:#111;transform:translateX(-50%) scale(0.5182,0.5)">37.211</span>
<span class="t b" style="left:90.7px;top:364.92px;font-size:19.80px;color:#111;transform:translateX(-50%) scale(0.4745,0.5)">Abruzzo</span>
<span class="t" style="left:162.1px;top:364.92px;font-size:19.80px;color:#1c1c08;transform:translateX(-50%) scale(0.5063,0.5);text-shadow:0 0 1.2px rgba(20,20,0,.7)">323</span>
<span class="t" style="left:224.1px;top:364.92px;font-size:19.80px;color:#1c1c08;transform:translateX(-50%) scale(0.5063,0.5);text-shadow:0 0 1.2px rgba(20,20,0,.7)">26</span>
<span class="t" style="left:288.1px;top:364.92px;font-size:19.80px;color:#1c1c08;transform:translateX(-50%) scale(0.5061,0.5);text-shadow:0 0 1.2px rgba(20,20,0,.7)">1.712</span>
<span class="t b" style="left:355.4px;top:364.92px;font-size:19.80px;color:#111;transform:translateX(-50%) scale(0.5094,0.5)">2.061</span>
<span class="t b" style="left:415.4px;top:364.92px;font-size:19.80px;color:#06300a;transform:translateX(-50%) scale(0.5063,0.5)">478</span>
<span class="t b" style="left:467.0px;top:364.92px;font-size:19.80px;color:#560000;transform:translateX(-50%) scale(0.5063,0.5);text-shadow:0 0 2.5px rgba(80,0,0,.85)">293</span>
<span class="t b" style="left:529.1px;top:364.92px;font-size:19.80px;color:#111;transform:translateX(-50%) scale(0.5094,0.5)">2.832</span>
<span class="t i" style="left:602.8px;top:364.92px;font-size:19.80px;color:#2e2200;transform:translateX(-50%) scale(0.4890,0.5);text-shadow:0 0 1.2px rgba(20,20,0,.7)">+ 29</span>
<span class="t b" style="left:674.6px;top:364.92px;font-size:19.80px;color:#111;transform:translateX(-50%) scale(0.5088,0.5)">33.624</span>
<span class="t b" style="left:742.4px;top:364.92px;font-size:19.80px;color:#111;transform:translateX(-50%) scale(0.5088,0.5)">25.959</span>
<span class="t b" style="left:90.7px;top:379.92px;font-size:19.80px;color:#111;transform:translateX(-50%) scale(0.4728,0.5)">Bolzano</span>
<span class="t" style="left:162.1px;top:379.92px;font-size:19.80px;color:#1c1c08;transform:translateX(-50%) scale(0.5063,0.5);text-shadow:0 0 1.2px rgba(20,20,0,.7)">141</span>
<span class="t" style="left:224.1px;top:379.92px;font-size:19.80px;color:#1c1c08;transform:translateX(-50%) scale(0.5063,0.5);text-shadow:0 0 1.2px rgba(20,20,0,.7)">14</span>
<span class="t" style="left:288.1px;top:379.92px;font-size:19.80px;color:#1c1c08;transform:translateX(-50%) scale(0.5063,0.5);text-shadow:0 0 1.2px rgba(20,20,0,.7)">880</span>
<span class="t b" style="left:355.4px;top:379.92px;font-size:19.80px;color:#111;transform:translateX(-50%) scale(0.5094,0.5)">1.035</span>
<span class="t b" style="left:415.4px;top:379.92px;font-size:19.80px;color:#06300a;transform:translateX(-50%) scale(0.5094,0.5)">1.176</span>
<span class="t b" style="left:467.0px;top:379.92px;font-size:19.80px;color:#560000;transform:translateX(-50%) scale(0.5063,0.5);text-shadow:0 0 2.5px rgba(80,0,0,.85)">265</span>
<span class="t b" style="left:529.1px;top:379.92px;font-size:19.80px;color:#111;transform:translateX(-50%) scale(0.5094,0.5)">2.476</span>
<span class="t i" style="left:602.8px;top:379.92px;font-size:19.80px;color:#2e2200;transform:translateX(-50%) scale(0.4890,0.5);text-shadow:0 0 1.2px rgba(20,20,0,.7)">+ 20</span>
<span class="t b" style="left:674.6px;top:379.92px;font-size:19.80px;color:#111;transform:translateX(-50%) scale(0.5088,0.5)">36.608</span>
<span class="t b" style="left:742.4px;top:379.92px;font-size:19.80px;color:#111;transform:translateX(-50%) scale(0.5088,0.5)">17.573</span>
<span class="t b" style="left:90.7px;top:393.92px;font-size:19.80px;color:#111;transform:translateX(-50%) scale(0.4991,0.5)">Umbria</span>
<span class="t" style="left:162.1px;top:393.92px;font-size:19.80px;color:#1c1c08;transform:translateX(-50%) scale(0.5063,0.5);text-shadow:0 0 1.2px rgba(20,20,0,.7)">95</span>
<span class="t" style="left:224.1px;top:393.92px;font-size:19.80px;color:#1c1c08;transform:translateX(-50%) scale(0.5063,0.5);text-shadow:0 0 1.2px rgba(20,20,0,.7)">18</span>
<span class="t" style="left:288.1px;top:393.92px;font-size:19.80px;color:#1c1c08;transform:translateX(-50%) scale(0.5063,0.5);text-shadow:0 0 1.2px rgba(20,20,0,.7)">184</span>
<span class="t b" style="left:355.4px;top:393.92px;font-size:19.80px;color:#111;transform:translateX(-50%) scale(0.5063,0.5)">297</span>
<span class="t b" style="left:415.4px;top:393.92px;font-size:19.80px;color:#06300a;transform:translateX(-50%) scale(0.5094,0.5)">1.006</span>
<span class="t b" style="left:467.0px;top:393.92px;font-size:19.80px;color:#560000;transform:translateX(-50%) scale(0.5063,0.5);text-shadow:0 0 2.5px rgba(80,0,0,.85)">63</span>
<span class="t b" style="left:529.1px;top:393.92px;font-size:19.80px;color:#111;transform:translateX(-50%) scale(0.5094,0.5)">1.366</span>
<span class="t i" style="left:602.8px;top:393.92px;font-size:19.80px;color:#2e2200;transform:translateX(-50%) scale(0.4823,0.5);text-shadow:0 0 1.2px rgba(20,20,0,.7)">+ 3</span>
<span class="t b" style="left:674.6px;top:393.92px;font-size:19.80px;color:#111;transform:translateX(-50%) scale(0.5088,0.5)">31.939</span>
<span class="t b" style="left:742.4px;top:393.92px;font-size:19.80px;color:#111;transform:translateX(-50%) scale(0.5088,0.5)">21.842</span>
<span class="t b" style="left:90.7px;top:408.92px;font-size:19.80px;color:#111;transform:translateX(-50%) scale(0.4714,0.5)">Sardegna</span>
<span class="t" style="left:162.1px;top:408.92px;font-size:19.80px;color:#1c1c08;transform:translateX(-50%) scale(0.5063,0.5);text-shadow:0 0 1.2px rgba(20,20,0,.7)">96</span>
<span class="t" style="left:224.1px;top:408.92px;font-size:19.80px;color:#1c1c08;transform:translateX(-50%) scale(0.5063,0.5);text-shadow:0 0 1.2px rgba(20,20,0,.7)">18</span>
<span class="t" style="left:288.1px;top:408.92px;font-size:19.80px;color:#1c1c08;transform:translateX(-50%) scale(0.5063,0.5);text-shadow:0 0 1.2px rgba(20,20,0,.7)">680</span>
<span class="t b" style="left:355.4px;top:408.92px;font-size:19.80px;color:#111;transform:translateX(-50%) scale(0.5063,0.5)">794</span>
<span class="t b" style="left:415.4px;top:408.92px;font-size:19.80px;color:#06300a;transform:translateX(-50%) scale(0.5063,0.5)">374</span>
<span class="t b" style="left:467.0px;top:408.92px;font-size:19.80px;color:#560000;transform:translateX(-50%) scale(0.5063,0.5);text-shadow:0 0 2.5px rgba(80,0,0,.85)">103</span>
<span class="t b" style="left:529.1px;top:408.92px;font-size:19.80px;color:#111;transform:translateX(-50%) scale(0.5094,0.5)">1.271</span>
<span class="t i" style="left:602.8px;top:408.92px;font-size:19.80px;color:#2e2200;transform:translateX(-50%) scale(0.4890,0.5);text-shadow:0 0 1.2px rgba(20,20,0,.7)">+ 14</span>
<span class="t b" style="left:674.6px;top:408.92px;font-size:19.80px;color:#111;transform:translateX(-50%) scale(0.5088,0.5)">20.351</span>
<span class="t b" style="left:742.4px;top:408.92px;font-size:19.80px;color:#111;transform:translateX(-50%) scale(0.5088,0.5)">18.480</span>
<span class="t b" style="left:90.7px;top:423.92px;font-size:19.80px;color:#111;transform:translateX(-50%) scale(0.4906,0.5)">Valle d&#x27;Aosta</span>
<span class="t" style="left:162.1px;top:423.92px;font-size:19.80px;color:#1c1c08;transform:translateX(-50%) scale(0.5063,0.5);text-shadow:0 0 1.2px rgba(20,20,0,.7)">83</span>
<span class="t" style="left:224.1px;top:423.92px;font-size:19.80px;color:#1c1c08;transform:translateX(-50%) scale(0.5063,0.5);text-shadow:0 0 1.2px rgba(20,20,0,.7)">6</span>
<span class="t" style="left:288.1px;top:423.92px;font-size:19.80px;color:#1c1c08;transform:translateX(-50%) scale(0.5063,0.5);text-shadow:0 0 1.2px rgba(20,20,0,.7)">224</span>
<span class="t b" style="left:355.4px;top:423.92px;font-size:19.80px;color:#111;transform:translateX(-50%) scale(0.5063,0.5)">313</span>
<span class="t b" style="left:415.4px;top:423.92px;font-size:19.80px;color:#06300a;transform:translateX(-50%) scale(0.5063,0.5)">657</span>
<span class="t b" style="left:467.0px;top:423.92px;font-size:19.80px;color:#560000;transform:translateX(-50%) scale(0.5063,0.5);text-shadow:0 0 2.5px rgba(80,0,0,.85)">130</span>
<span class="t b" style="left:529.1px;top:423.92px;font-size:19.80px;color:#111;transform:translateX(-50%) scale(0.5094,0.5)">1.100</span>
<span class="t i" style="left:602.8px;top:423.92px;font-size:19.80px;color:#2e2200;transform:translateX(-50%) scale(0.5063,0.5);text-shadow:0 0 1.2px rgba(20,20,0,.7)">0</span>
<span class="t b" style="left:674.6px;top:423.92px;font-size:19.80px;color:#111;transform:translateX(-50%) scale(0.5094,0.5)">5.966</span>
<span class="t b" style="left:742.4px;top:423.92px;font-size:19.80px;color:#111;transform:translateX(-50%) scale(0.5094,0.5)">4.694</span>
<span class="t b" style="left:90.7px;top:437.92px;font-size:19.80px;color:#111;transform:translateX(-50%) scale(0.4781,0.5)">Calabria</span>
<span class="t" style="left:162.1px;top:437.92px;font-size:19.80px;color:#1c1c08;transform:translateX(-50%) scale(0.5063,0.5);text-shadow:0 0 1.2px rgba(20,20,0,.7)">125</span>
<span class="t" style="left:224.1px;top:437.92px;font-size:19.80px;color:#1c1c08;transform:translateX(-50%) scale(0.5063,0.5);text-shadow:0 0 1.2px rgba(20,20,0,.7)">7</span>
<span class="t" style="left:288.1px;top:437.92px;font-size:19.80px;color:#1c1c08;transform:translateX(-50%) scale(0.5063,0.5);text-shadow:0 0 1.2px rgba(20,20,0,.7)">679</span>
<span class="t b" style="left:355.4px;top:437.92px;font-size:19.80px;color:#111;transform:translateX(-50%) scale(0.5236,0.5)">811</span>
<span class="t b" style="left:415.4px;top:437.92px;font-size:19.80px;color:#06300a;transform:translateX(-50%) scale(0.5063,0.5)">197</span>
<span class="t b" style="left:467.0px;top:437.92px;font-size:19.80px;color:#560000;transform:translateX(-50%) scale(0.5063,0.5);text-shadow:0 0 2.5px rgba(80,0,0,.85)">80</span>
<span class="t b" style="left:529.1px;top:437.92px;font-size:19.80px;color:#111;transform:translateX(-50%) scale(0.5094,0.5)">1.088</span>
<span class="t i" style="left:602.8px;top:437.92px;font-size:19.80px;color:#2e2200;transform:translateX(-50%) scale(0.4823,0.5);text-shadow:0 0 1.2px rgba(20,20,0,.7)">+ 9</span>
<span class="t b" style="left:674.6px;top:437.92px;font-size:19.80px;color:#111;transform:translateX(-50%) scale(0.5088,0.5)">29.959</span>
<span class="t b" style="left:742.4px;top:437.92px;font-size:19.80px;color:#111;transform:translateX(-50%) scale(0.5088,0.5)">28.006</span>
<span class="t b" style="left:90.7px;top:452.92px;font-size:19.80px;color:#111;transform:translateX(-50%) scale(0.4694,0.5)">Basilicata</span>
<span class="t" style="left:162.1px;top:452.92px;font-size:19.80px;color:#1c1c08;transform:translateX(-50%) scale(0.5063,0.5);text-shadow:0 0 1.2px rgba(20,20,0,.7)">58</span>
<span class="t" style="left:224.1px;top:452.92px;font-size:19.80px;color:#1c1c08;transform:translateX(-50%) scale(0.5063,0.5);text-shadow:0 0 1.2px rgba(20,20,0,.7)">7</span>
<span class="t" style="left:288.1px;top:452.92px;font-size:19.80px;color:#1c1c08;transform:translateX(-50%) scale(0.5063,0.5);text-shadow:0 0 1.2px rgba(20,20,0,.7)">153</span>
<span class="t b" style="left:355.4px;top:452.92px;font-size:19.80px;color:#111;transform:translateX(-50%) scale(0.5063,0.5)">218</span>
<span class="t b" style="left:415.4px;top:452.92px;font-size:19.80px;color:#06300a;transform:translateX(-50%) scale(0.5236,0.5)">118</span>
<span class="t b" style="left:467.0px;top:452.92px;font-size:19.80px;color:#560000;transform:translateX(-50%) scale(0.5063,0.5);text-shadow:0 0 2.5px rgba(80,0,0,.85)">25</span>
<span class="t b" style="left:529.1px;top:452.92px;font-size:19.80px;color:#111;transform:translateX(-50%) scale(0.5063,0.5)">361</span>
<span class="t i" style="left:602.8px;top:452.92px;font-size:19.80px;color:#2e2200;transform:translateX(-50%) scale(0.4823,0.5);text-shadow:0 0 1.2px rgba(20,20,0,.7)">+ 1</span>
<span class="t b" style="left:674.6px;top:452.92px;font-size:19.80px;color:#111;transform:translateX(-50%) scale(0.5094,0.5)">9.792</span>
<span class="t b" style="left:742.4px;top:452.92px;font-size:19.80px;color:#111;transform:translateX(-50%) scale(0.5094,0.5)">9.792</span>
<span class="t b" style="left:90.7px;top:467.92px;font-size:19.80px;color:#111;transform:translateX(-50%) scale(0.5010,0.5)">Molise</span>
<span class="t" style="left:162.1px;top:467.92px;font-size:19.80px;color:#1c1c08;transform:translateX(-50%) scale(0.5063,0.5);text-shadow:0 0 1.2px rgba(20,20,0,.7)">19</span>
<span class="t" style="left:224.1px;top:467.92px;font-size:19.80px;color:#1c1c08;transform:translateX(-50%) scale(0.5063,0.5);text-shadow:0 0 1.2px rgba(20,20,0,.7)">1</span>
<span class="t" style="left:288.1px;top:467.92px;font-size:19.80px;color:#1c1c08;transform:translateX(-50%) scale(0.5063,0.5);text-shadow:0 0 1.2px rgba(20,20,0,.7)">178</span>
<span class="t b" style="left:355.4px;top:467.92px;font-size:19.80px;color:#111;transform:translateX(-50%) scale(0.5063,0.5)">198</span>
<span class="t b" style="left:415.4px;top:467.92px;font-size:19.80px;color:#06300a;transform:translateX(-50%) scale(0.5063,0.5)">73</span>
<span class="t b" style="left:467.0px;top:467.92px;font-size:19.80px;color:#560000;transform:translateX(-50%) scale(0.5063,0.5);text-shadow:0 0 2.5px rgba(80,0,0,.85)">21</span>
<span class="t b" style="left:529.1px;top:467.92px;font-size:19.80px;color:#111;transform:translateX(-50%) scale(0.5063,0.5)">292</span>
<span class="t i" style="left:602.8px;top:467.92px;font-size:19.80px;color:#2e2200;transform:translateX(-50%) scale(0.4823,0.5);text-shadow:0 0 1.2px rgba(20,20,0,.7)">+ 5</span>
<span class="t b" style="left:674.6px;top:467.92px;font-size:19.80px;color:#111;transform:translateX(-50%) scale(0.5094,0.5)">5.191</span>
<span class="t b" style="left:742.4px;top:467.92px;font-size:19.80px;color:#111;transform:translateX(-50%) scale(0.5094,0.5)">5.089</span>
<span class="t b" style="left:90.7px;top:481.92px;font-size:19.80px;color:#111;transform:translateX(-50%) scale(0.4525,0.5)">TOTALE</span>
<span class="t b" style="left:162.1px;top:482.92px;font-size:19.80px;color:#111;transform:translateX(-50%) scale(0.5088,0.5)">21.533</span>
<span class="t b" style="left:224.1px;top:482.92px;font-size:19.80px;color:#111;transform:translateX(-50%) scale(0.5094,0.5)">2.102</span>
<span class="t b" style="left:288.1px;top:482.92px;font-size:19.80px;color:#111;transform:translateX(-50%) scale(0.5088,0.5)">82.212</span>
<span class="t b" style="left:355.4px;top:482.92px;font-size:19.80px;color:#111;transform:translateX(-50%) scale(0.5084,0.5)">105.847</span>
<span class="t b" style="left:415.4px;top:482.92px;font-size:19.80px;color:#06300a;transform:translateX(-50%) scale(0.5088,0.5)">63.120</span>
<span class="t b" style="left:467.0px;top:482.92px;font-size:19.80px;color:#560000;transform:translateX(-50%) scale(0.5088,0.5);text-shadow:0 0 2.5px rgba(80,0,0,.85)">26.384</span>
<span class="t b" style="left:529.1px;top:482.92px;font-size:19.80px;color:#111;transform:translateX(-50%) scale(0.5084,0.5)">195.351</span>
<span class="t i" style="left:602.8px;top:482.92px;font-size:19.80px;color:#2e2200;transform:translateX(-50%) scale(0.4960,0.5);text-shadow:0 0 1.2px rgba(20,20,0,.7)">+ 2.357</span>
<span class="t b" style="left:674.6px;top:482.92px;font-size:19.80px;color:#111;transform:translateX(-50%) scale(0.5098,0.5)">1.707.743</span>
<span class="t b" style="left:742.4px;top:482.92px;font-size:19.80px;color:#111;transform:translateX(-50%) scale(0.5098,0.5)">1.186.526</span>
<span class="t b" style="left:194.3px;top:519.92px;font-size:19.80px;color:#111;transform:translateX(-50%) scale(0.4693,0.5)">ATTUALMENTE POSITIVI</span>
<span class="t b" style="left:288.7px;top:519.92px;font-size:19.80px;color:#111;transform:translateX(-50%) scale(0.5084,0.5)">105.847</span>
<span class="t b" style="left:194.3px;top:534.92px;font-size:19.80px;color:#06300a;transform:translateX(-50%) scale(0.4616,0.5)">TOTALE GUARITI</span>
<span class="t b" style="left:288.7px;top:534.92px;font-size:19.80px;color:#06300a;transform:translateX(-50%) scale(0.5088,0.5)">63.120</span>
<span class="t b" style="left:194.3px;top:550.92px;font-size:19.80px;color:#560000;transform:translateX(-50%) scale(0.4533,0.5);text-shadow:0 0 2.5px rgba(80,0,0,.85)">TOTALE DECEDUTI</span>
<span class="t b" style="left:288.7px;top:550.92px;font-size:19.80px;color:#560000;transform:translateX(-50%) scale(0.5088,0.5);text-shadow:0 0 2.5px rgba(80,0,0,.85)">26.384</span>
<span class="t b" style="left:194.3px;top:565.92px;font-size:19.80px;color:#111;transform:translateX(-50%) scale(0.4546,0.5)">CASI TOTALI</span>
<span class="t b" style="left:288.7px;top:565.92px;font-size:19.80px;color:#111;transform:translateX(-50%) scale(0.5084,0.5)">195.351</span>
</div>
</body></html>
